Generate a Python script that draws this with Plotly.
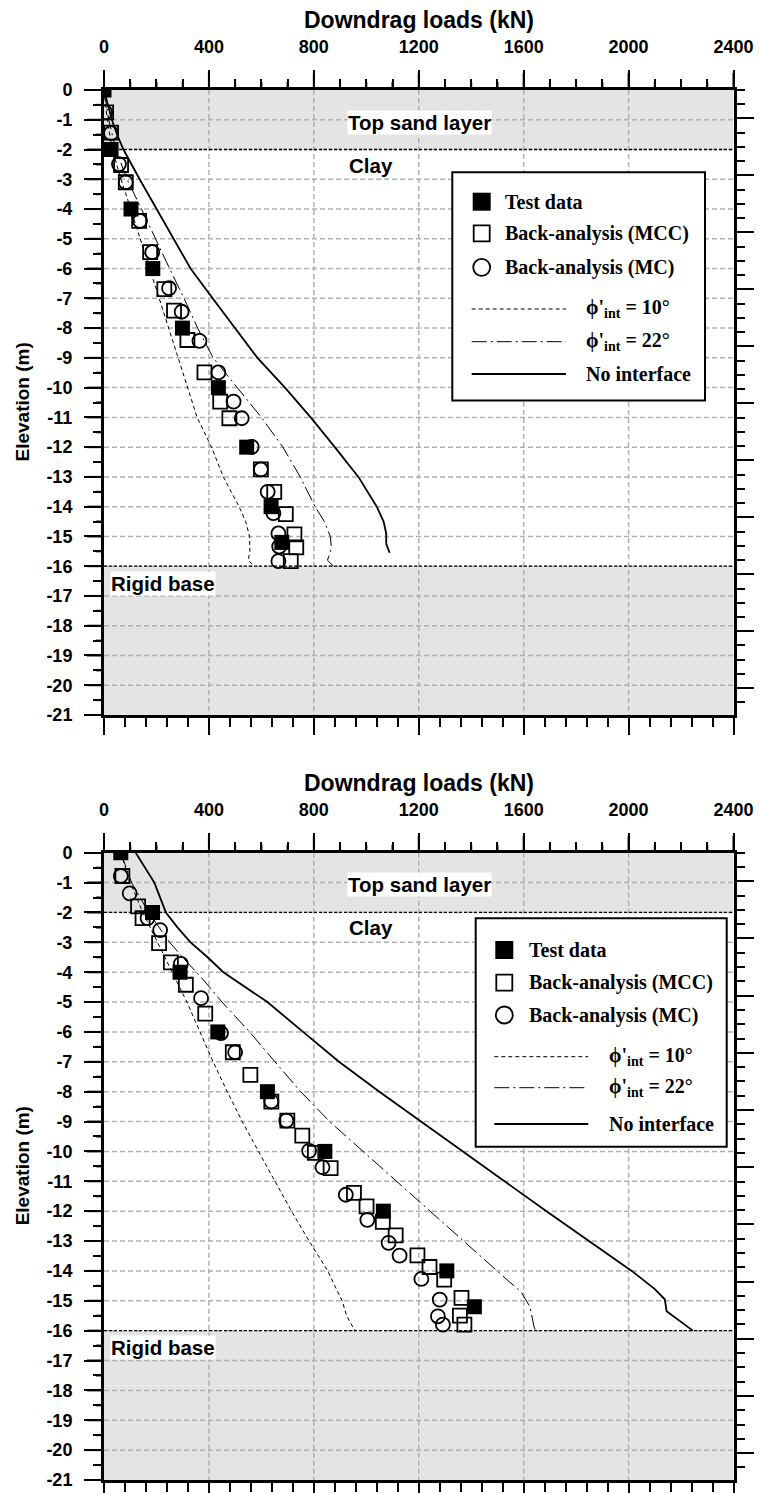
import plotly.graph_objects as go

W, H = 760, 1493

# ---------------- tick labels ----------------
load_ticks = [0, 400, 800, 1200, 1600, 2000, 2400]
load_ticktext = [str(v) for v in load_ticks]
load_minor_ticks = [v for v in range(0, 2401, 100) if v % 400]
elev_ticks = list(range(0, -22, -1))
elev_ticktext = [str(v) for v in elev_ticks]
elev_minor_ticks = [-(k + 0.5) for k in range(21)]

# soil layers (elevation, m)
sand_layer = [0, -2]
base_layer = [-16, -21]

# ---------------- panel 1 data ----------------
test1_load = [0, 27, 103, 186, 299, 436, 544, 637, 678]
test1_elev = [0, -2, -4, -6, -8, -10, -12, -14, -15.2]

mcc1_load = [8, 27, 65, 83, 134, 176, 230, 267, 318, 383, 443, 478, 598, 649, 693, 726, 733, 712]
mcc1_elev = [-0.75, -1.43, -2.52, -3.1, -4.4, -5.45, -6.69, -7.41, -8.4, -9.49, -10.47, -11.03,
             -12.75, -13.5, -14.25, -14.93, -15.37, -15.83]

mc1_load = [4, 27, 57, 83, 137, 184, 248, 296, 364, 436, 494, 525, 563, 598, 624, 646, 665, 668, 665]
mc1_elev = [-0.75, -1.45, -2.49, -3.1, -4.4, -5.45, -6.66, -7.45, -8.43, -9.49, -10.47, -11.03,
            -11.99, -12.75, -13.5, -14.22, -14.9, -15.34, -15.83]

phi10_1_elev = [0, -1, -2, -3, -4, -5, -6, -7, -8, -9, -10, -11, -12, -13, -14, -14.5, -15, -15.5, -15.8, -16]
phi10_1_load = [0, 12, 32, 65, 102, 138, 172, 208, 245, 282, 318, 355, 410, 455, 515, 540, 555, 556, 550, 572]

phi22_1_elev = [0, -1, -2, -3, -4, -5, -6, -7, -8, -9, -10, -11, -12, -13, -14, -14.5, -15, -15.4, -15.8, -16]
phi22_1_load = [0, 18, 45, 88, 143, 195, 250, 305, 357, 416, 508, 600, 682, 748, 805, 840, 863, 867, 852, 875]

noint1_elev = [0, -0.5, -1, -1.5, -2, -3, -4, -5, -6, -7, -8, -9, -10, -11, -12, -13, -14, -14.5,
               -14.9, -15.25, -15.55]
noint1_load = [0, 14, 30, 50, 74, 136, 201, 265, 330, 414, 498, 585, 690, 788, 880, 970, 1040, 1066,
               1076, 1076, 1089]

# ---------------- panel 2 data ----------------
test2_load = [64, 185, 290, 434, 623, 842, 1065, 1307, 1412]
test2_elev = [0, -2, -4, -6, -8, -10, -12, -14, -15.2]

mcc2_load = [70, 130, 147, 210, 255, 312, 386, 491, 558, 638, 699, 756, 804, 864, 953, 1001, 1063,
             1112, 1195, 1241, 1297, 1363, 1357, 1374]
mcc2_elev = [-0.78, -1.8, -2.19, -3.03, -3.67, -4.42, -5.39, -6.68, -7.44, -8.33, -8.97, -9.47,
             -10.05, -10.56, -11.39, -11.84, -12.36, -12.81, -13.48, -13.87, -14.29, -14.9, -15.5, -15.8]

mc2_load = [64, 98, 166, 214, 293, 370, 446, 500, 638, 695, 782, 833, 922, 1004, 1085, 1127, 1210,
            1280, 1273, 1292]
mc2_elev = [-0.78, -1.36, -2.19, -2.59, -3.72, -4.87, -6.04, -6.68, -8.33, -8.97, -9.98, -10.53,
            -11.45, -12.29, -13.06, -13.49, -14.27, -14.96, -15.52, -15.8]

phi10_2_elev = [0, -1, -2, -3, -4, -5, -6, -7, -8, -9, -10, -11, -12, -13, -14, -14.5, -15, -15.5, -15.9, -16]
phi10_2_load = [64, 100, 148, 205, 260, 316, 366, 416, 470, 527, 589, 652, 715, 782, 853, 880, 908, 925, 950, 960]

phi22_2_elev = [0, -1, -2, -3, -3.5, -4.3, -5, -6, -7, -8, -9, -10, -11, -12, -13, -13.7, -14.3,
                -14.7, -15.2, -15.85, -16]
phi22_2_load = [64, 105, 170, 250, 300, 383, 450, 555, 652, 750, 860, 987, 1115, 1242, 1368, 1460,
                1537, 1590, 1624, 1639, 1645]

noint2_elev = [0, -1, -2, -2.5, -3, -3.5, -4, -5, -6, -7, -8, -9, -10, -11, -12, -13, -14, -14.6,
               -14.95, -15.35, -15.9, -16]
noint2_load = [121, 192, 236, 280, 330, 395, 455, 623, 759, 896, 1050, 1208, 1368, 1527, 1687, 1850,
               2012, 2099, 2138, 2145, 2228, 2245]

legend_labels = ["Test data", "Back-analysis (MCC)", "Back-analysis (MC)",
                 "ϕ'<sub>int</sub> = 10°", "ϕ'<sub>int</sub> = 22°", "No interface"]

# ---------------- layout geometry (pixels) ----------------
X_L, X_R = 104, 733.5
SANS = "Liberation Sans"
SERIF = "Liberation Serif"


def fx(p):
    return p / W


def fy(p):
    return 1 - p / H


panels = [
    dict(x="x", y="y", xb="x3", yr="y3", xt="x5", yl="y5", top=90, bot=715,
         data=dict(test=(test1_load, test1_elev), mcc=(mcc1_load, mcc1_elev), mc=(mc1_load, mc1_elev),
                   p10=(phi10_1_load, phi10_1_elev), p22=(phi22_1_load, phi22_1_elev),
                   ni=(noint1_load, noint1_elev)),
         leg=dict(x0=452.3, y0=172.3, x1=705, y1=400.5, mx=481.7, mt=502.7, lx0=471.7, lx1=566,
                  lt=584.3, rows=[201.7, 233.3, 267.3, 309, 341.7, 374])),
    dict(x="x2", y="y2", xb="x4", yr="y4", xt="x6", yl="y6", top=852.7, bot=1480,
         data=dict(test=(test2_load, test2_elev), mcc=(mcc2_load, mcc2_elev), mc=(mc2_load, mc2_elev),
                   p10=(phi10_2_load, phi10_2_elev), p22=(phi22_2_load, phi22_2_elev),
                   ni=(noint2_load, noint2_elev)),
         leg=dict(x0=475.7, y0=918.3, x1=726.7, y1=1146.7, mx=504.3, mt=526.7, lx0=494.3, lx1=588.3,
                  lt=606.7, rows=[950, 982.7, 1015, 1056.7, 1087.7, 1124])),
]

fig = go.Figure()
shapes = []
annotations = []

DASH10 = "4px,3px"
DASH22 = "15px,4px,2px,4px"
GRIDLINE = dict(color="#b0b0b0", width=1.5, dash="5px,3px")
TICKLINE = dict(color="black", width=2)

for i, P in enumerate(panels):
    d = P["data"]
    xa, ya = P["x"], P["y"]
    fig.add_trace(go.Scatter(x=d["p10"][0], y=d["p10"][1], mode="lines", xaxis=xa, yaxis=ya,
                             line=dict(color="black", width=1, dash=DASH10), showlegend=False))
    fig.add_trace(go.Scatter(x=d["p22"][0], y=d["p22"][1], mode="lines", xaxis=xa, yaxis=ya,
                             line=dict(color="black", width=1, dash=DASH22), showlegend=False))
    fig.add_trace(go.Scatter(x=d["ni"][0], y=d["ni"][1], mode="lines", xaxis=xa, yaxis=ya,
                             line=dict(color="black", width=1.8), showlegend=False))
    fig.add_trace(go.Scatter(x=d["mcc"][0], y=d["mcc"][1], mode="markers", xaxis=xa, yaxis=ya,
                             marker=dict(symbol="square-open", size=14, color="black",
                                         line=dict(width=1.8, color="black")), showlegend=False))
    fig.add_trace(go.Scatter(x=d["mc"][0], y=d["mc"][1], mode="markers", xaxis=xa, yaxis=ya,
                             marker=dict(symbol="circle-open", size=14, color="black",
                                         line=dict(width=1.8, color="black")), showlegend=False))
    fig.add_trace(go.Scatter(x=d["test"][0], y=d["test"][1], mode="markers", xaxis=xa, yaxis=ya,
                             marker=dict(symbol="square", size=15, color="black",
                                         line=dict(width=0)), showlegend=False))
    # empty traces so that the tick-only overlay axes get drawn
    fig.add_trace(go.Scatter(x=[None], y=[None], xaxis=P["xb"], yaxis=P["yr"], showlegend=False,
                             hoverinfo="skip"))
    fig.add_trace(go.Scatter(x=[None], y=[None], xaxis=P["xt"], yaxis=P["yl"], showlegend=False,
                             hoverinfo="skip"))

    # layer shading
    for lay in (sand_layer, base_layer):
        shapes.append(dict(type="rect", xref=xa, yref=ya, x0=load_ticks[0], x1=load_ticks[-1],
                           y0=lay[0], y1=lay[1], fillcolor="#e4e4e4", line=dict(width=0),
                           layer="below"))
    # dashed grid at the tick positions
    for v in load_ticks[1:-1]:
        shapes.append(dict(type="line", xref=xa, yref=ya, x0=v, x1=v, y0=elev_ticks[0],
                           y1=elev_ticks[-1], line=GRIDLINE, layer="below"))
    for v in elev_ticks[1:-1]:
        shapes.append(dict(type="line", xref=xa, yref=ya, x0=load_ticks[0], x1=load_ticks[-1],
                           y0=v, y1=v, line=GRIDLINE, layer="below"))
    for yb in (sand_layer[1], base_layer[0]):
        shapes.append(dict(type="line", xref=xa, yref=ya, x0=load_ticks[0], x1=load_ticks[-1],
                           y0=yb, y1=yb, line=dict(color="black", width=1.3, dash="3px,2px"),
                           layer="below"))

    # outside tick marks on the labelled (top / left) sides
    top = P["top"]
    for v in load_ticks:
        shapes.append(dict(type="line", xref=xa, yref="paper", x0=v, x1=v, y0=fy(top - 17), y1=fy(top),
                           line=TICKLINE, layer="above"))
    for v in load_minor_ticks:
        shapes.append(dict(type="line", xref=xa, yref="paper", x0=v, x1=v, y0=fy(top - 8), y1=fy(top),
                           line=TICKLINE, layer="above"))
    for v in elev_ticks:
        shapes.append(dict(type="line", xref="paper", yref=ya, x0=fx(X_L - 17), x1=fx(X_L), y0=v, y1=v,
                           line=TICKLINE, layer="above"))
    for v in elev_minor_ticks:
        shapes.append(dict(type="line", xref="paper", yref=ya, x0=fx(X_L - 8), x1=fx(X_L), y0=v, y1=v,
                           line=TICKLINE, layer="above"))

    lab_font = dict(family=SANS, size=20.5, color="black", weight="bold")
    annotations.append(dict(text="Top sand layer", x=927, y=-1.08, xref=xa, yref=ya, xanchor="left",
                            yanchor="middle", showarrow=False, font=lab_font, bgcolor="white",
                            borderpad=0))
    annotations.append(dict(text="Clay", x=927, y=-2.52, xref=xa, yref=ya, xanchor="left",
                            yanchor="middle", showarrow=False, font=lab_font))
    annotations.append(dict(text="Rigid base", x=22, y=-16.58, xref=xa, yref=ya, xanchor="left",
                            yanchor="middle", showarrow=False, font=lab_font, bgcolor="white",
                            borderpad=0))

    annotations.append(dict(text="Downdrag loads (kN)", x=fx((X_L + X_R) / 2), y=fy(P["top"] - 70),
                            xref="paper", yref="paper", xanchor="center", yanchor="middle",
                            showarrow=False, font=dict(family=SANS, size=23, color="black", weight="bold")))
    annotations.append(dict(text="Elevation (m)", x=fx(22), y=fy((P["top"] + P["bot"]) / 2),
                            xref="paper", yref="paper", xanchor="center", yanchor="middle",
                            textangle=-90, showarrow=False,
                            font=dict(family=SANS, size=19, color="black", weight="bold")))

    L = P["leg"]
    shapes.append(dict(type="rect", xref="paper", yref="paper", x0=fx(L["x0"]), x1=fx(L["x1"]),
                       y0=fy(L["y0"]), y1=fy(L["y1"]), line=dict(color="black", width=2),
                       fillcolor="white", layer="above"))
    r = L["rows"]
    s = 9
    shapes.append(dict(type="rect", xref="paper", yref="paper", x0=fx(L["mx"] - s), x1=fx(L["mx"] + s),
                       y0=fy(r[0] - s), y1=fy(r[0] + s), fillcolor="black", line=dict(width=0),
                       layer="above"))
    shapes.append(dict(type="rect", xref="paper", yref="paper", x0=fx(L["mx"] - s + 1), x1=fx(L["mx"] + s - 1),
                       y0=fy(r[1] - s + 1), y1=fy(r[1] + s - 1), line=dict(color="black", width=1.8),
                       layer="above"))
    shapes.append(dict(type="circle", xref="paper", yref="paper", x0=fx(L["mx"] - s + 0.5),
                       x1=fx(L["mx"] + s - 0.5), y0=fy(r[2] - s + 0.5), y1=fy(r[2] + s - 0.5),
                       line=dict(color="black", width=1.8), layer="above"))
    for k, (dash, wd) in zip((3, 4, 5), ((DASH10, 1), (DASH22, 1), ("solid", 1.8))):
        shapes.append(dict(type="line", xref="paper", yref="paper", x0=fx(L["lx0"]), x1=fx(L["lx1"]),
                           y0=fy(r[k]), y1=fy(r[k]), line=dict(color="black", width=wd, dash=dash),
                           layer="above"))
    leg_font = dict(family=SERIF, size=20, color="black", weight="bold")
    for k, lab in enumerate(legend_labels):
        xt = L["mt"] if k < 3 else L["lt"]
        annotations.append(dict(text=lab, x=fx(xt), y=fy(r[k]), xref="paper", yref="paper",
                                xanchor="left", yanchor="middle", showarrow=False, font=leg_font))

tickfont = dict(family=SANS, size=18, color="black", weight="bold")
xdom = [fx(X_L), fx(X_R)]
TICK = dict(ticks="outside", ticklen=17, tickwidth=2, tickcolor="black")
LINE = dict(showline=True, linecolor="black", linewidth=3, automargin=False, showgrid=False,
            zeroline=False)


def minor(dt, ln=8, t0=0):
    return dict(tickmode="linear", tick0=t0, dtick=dt, ticks="outside", ticklen=ln, tickwidth=2,
                tickcolor="black", showgrid=False)


layout_axes = {}
for i, P in enumerate(panels):
    n = "" if i == 0 else "2"
    ydom = [fy(P["bot"]), fy(P["top"])]
    xr = [load_ticks[0], load_ticks[-1]]
    yrng = [elev_ticks[-1], elev_ticks[0]]
    layout_axes["xaxis" + n] = dict(
        domain=xdom, anchor=P["y"], side="top", range=xr,
        tickmode="array", tickvals=load_ticks, ticktext=load_ticktext, ticklabelstandoff=10,
        tickfont=tickfont, minor=minor(100), **TICK, **LINE)
    layout_axes["yaxis" + n] = dict(
        domain=ydom, anchor=P["x"], side="left", range=yrng,
        tickmode="array", tickvals=elev_ticks, ticktext=elev_ticktext, ticklabelstandoff=8,
        tickfont=tickfont, minor=minor(0.5), **TICK, **LINE)
    layout_axes["xaxis" + P["xt"][1:]] = dict(
        overlaying=P["x"], anchor=P["y"], side="top", range=xr,
        tickmode="linear", tick0=0, dtick=400, showticklabels=False, minor=minor(100),
        **TICK, **LINE)
    layout_axes["yaxis" + P["yl"][1:]] = dict(
        overlaying=P["y"], anchor=P["x"], side="left", range=yrng,
        tickmode="linear", tick0=0, dtick=1, showticklabels=False, minor=minor(0.5),
        **TICK, **LINE)
    layout_axes["xaxis" + P["xb"][1:]] = dict(
        overlaying=P["x"], anchor=P["y"], side="bottom", range=xr,
        tickmode="linear", tick0=0, dtick=400, showticklabels=False, minor=minor(80, 9),
        **TICK, **LINE)
    layout_axes["yaxis" + P["yr"][1:]] = dict(
        overlaying=P["y"], anchor=P["x"], side="right", range=[43.88, 0],
        tickmode="linear", tick0=2, dtick=4, showticklabels=False, minor=minor(1),
        **TICK, **LINE)

fig.update_layout(
    width=W, height=H, margin=dict(l=0, r=0, t=0, b=0, autoexpand=False),
    paper_bgcolor="white", plot_bgcolor="white",
    showlegend=False, shapes=shapes, annotations=annotations,
    **layout_axes)

fig.write_html("out.html")
